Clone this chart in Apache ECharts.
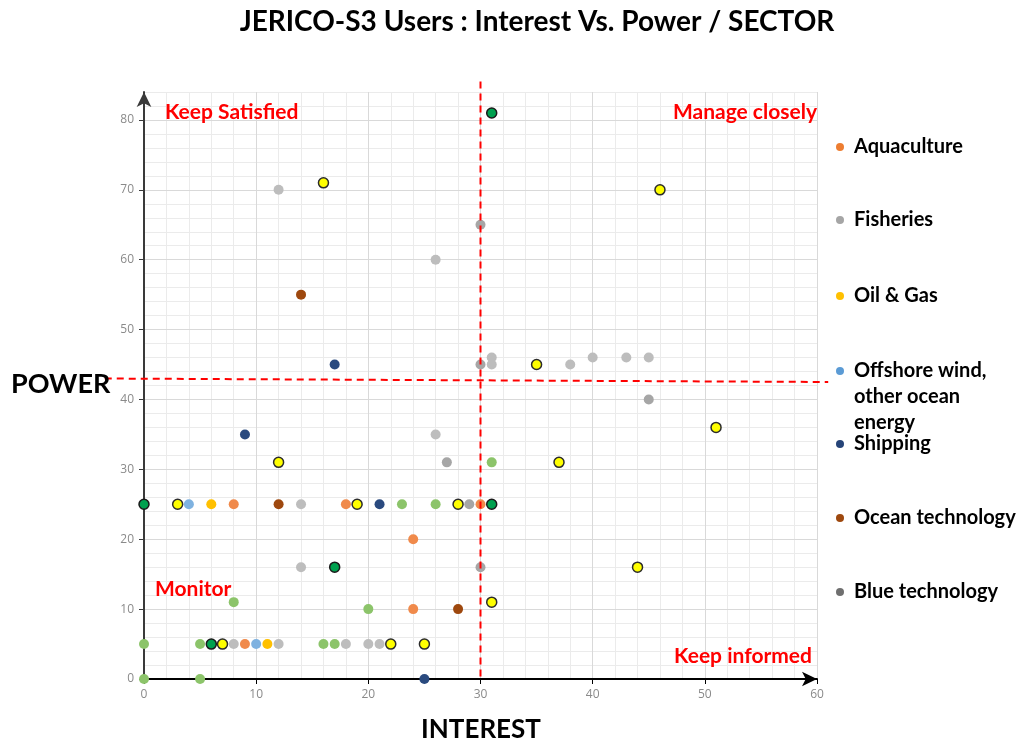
<!DOCTYPE html>
<html>
<head>
<meta charset="utf-8">
<script src="https://cdn.jsdelivr.net/npm/echarts@6/dist/echarts.min.js"></script>
<style>
  html, body { margin: 0; padding: 0; background: #ffffff; }
  #chart { width: 1022px; height: 745px; }
</style>
</head>
<body>
<div id="chart"></div>
<script>
// Axis tick labels
const interestTicks = [0, 10, 20, 30, 40, 50, 60];
const powerTicks = [0, 10, 20, 30, 40, 50, 60, 70, 80];

// [interest, power] per stakeholder, grouped by sector
const aquaculture = [[8, 25], [18, 25], [30, 25], [24, 20], [24, 10], [9, 5]];
const fisheries = [[14, 25], [14, 16], [8, 5], [12, 5], [18, 5], [20, 5], [21, 5], [12, 70], [26, 60],
  [26, 35], [31, 46], [31, 45], [38, 45], [40, 46], [43, 46], [45, 46]];
const oilGas = [[6, 25], [11, 5]];
const offshoreWind = [[4, 25], [10, 5]];
const shipping = [[17, 45], [9, 35], [21, 25], [25, 0]];
const oceanTech = [[14, 55], [12, 25], [28, 10]];
const blueTech = [[27, 31], [45, 40], [30, 65], [30, 45], [30, 16], [29, 25]];
const groupGreen = [[23, 25], [26, 25], [8, 11], [20, 10], [0, 5], [5, 5], [16, 5], [17, 5], [0, 0], [5, 0], [31, 31]];
const groupYellow = [[16, 71], [46, 70], [35, 45], [51, 36], [12, 31], [37, 31], [3, 25], [19, 25], [28, 25],
  [44, 16], [31, 11], [7, 5], [22, 5], [25, 5]];
const groupDarkGreen = [[31, 81], [0, 25], [31, 25], [17, 16], [6, 5]];

// Quadrant thresholds
const interestThreshold = 30;
const powerThreshold = [43, 42.5]; // left end, right end

const sectors = [
  { name: 'Aquaculture', data: aquaculture, color: '#f08a4b', legendColor: '#ed7d31' },
  { name: 'Fisheries', data: fisheries, color: '#bdbdbd', legendColor: '#a5a5a5' },
  { name: 'Oil & Gas', data: oilGas, color: '#ffc000', legendColor: '#ffc000' },
  { name: 'Offshore wind, other ocean energy', data: offshoreWind, color: '#7fb2e0', legendColor: '#5b9bd5' },
  { name: 'Shipping', data: shipping, color: '#2a4a7f', legendColor: '#264478' },
  { name: 'Ocean technology', data: oceanTech, color: '#9e480e', legendColor: '#9e480e' },
  { name: 'Blue technology', data: blueTech, color: '#a6a6a6', legendColor: '#6f6f6f' }
];

const FONT = 'Lato, "Open Sans", sans-serif';
const chart = echarts.init(document.getElementById('chart'), null, { renderer: 'canvas' });

const onMain = { xAxisIndex: 1, yAxisIndex: 1 };
const series = [];
series.push(Object.assign({
  name: 'Group G', type: 'scatter', data: groupGreen, symbolSize: 10,
  itemStyle: { color: '#8cc46a', opacity: 1 }
}, onMain));
sectors.forEach(s => series.push(Object.assign({
  name: s.name, type: 'scatter', data: s.data, symbolSize: 10,
  itemStyle: { color: s.color, opacity: 1 }
}, onMain)));
series.push(Object.assign({
  name: 'Group Y', type: 'scatter', data: groupYellow, symbolSize: 10,
  itemStyle: { color: '#ffff00', borderColor: '#2b2b2b', borderWidth: 1.5, opacity: 1 }
}, onMain));
series.push(Object.assign({
  name: 'Group D', type: 'scatter', data: groupDarkGreen, symbolSize: 10,
  itemStyle: { color: '#00a14f', borderColor: '#1a1a1a', borderWidth: 1.5, opacity: 1 }
}, onMain));

// One legend block per sector, stacked on the right
const legendRows = [147, 220, 296, 371, 444, 518, 592];
const legends = sectors.map((s, i) => {
  const multi = s.name.indexOf('Offshore') === 0;
  return {
    orient: 'vertical',
    left: 836,
    top: multi ? legendRows[i] - 65 : legendRows[i] - 13,
    padding: 0,
    itemWidth: 8,
    itemHeight: 8,
    icon: 'circle',
    selectedMode: false,
    data: [{ name: s.name, itemStyle: { color: s.legendColor } }],
    // the two leading blank lines keep the dot level with the first line
    formatter: multi ? () => '\n\nOffshore wind,\nother ocean\nenergy' : undefined,
    textStyle: {
      fontFamily: FONT, fontWeight: 'bold', fontSize: 20, color: '#000',
      lineHeight: 26, padding: [0, 0, 0, 5]
    }
  };
});

// Fine grid every 2 units on axis 0, labelled axis with major grid on axis 1
const minorGrid = { show: true, lineStyle: { color: '#ebebeb', width: 1 } };
const majorGrid = { show: true, lineStyle: { color: '#d9d9d9', width: 1 } };
const tickLabel = { color: '#8a8a8a', fontSize: 12, fontFamily: '"Open Sans", sans-serif', margin: 10 };

const option = {
  backgroundColor: '#ffffff',
  animation: false,
  grid: { left: 144, right: 205, top: 92, bottom: 66, containLabel: false },
  legend: legends,
  xAxis: [
    { type: 'value', min: 0, max: 60, interval: 2, position: 'bottom', z: 0,
      axisLine: { show: false }, axisTick: { show: false }, axisLabel: { show: false },
      splitLine: minorGrid },
    { type: 'value', min: 0, max: 60, interval: 10, position: 'bottom', z: 1,
      axisLine: { show: true, onZero: false, symbol: ['none', 'arrow'], symbolSize: [11, 15],
        lineStyle: { color: '#000', width: 2 } },
      axisTick: { show: true, customValues: interestTicks, length: 5, inside: false,
        lineStyle: { color: '#000', width: 1 } },
      axisLabel: Object.assign({ customValues: interestTicks }, tickLabel),
      splitLine: majorGrid }
  ],
  yAxis: [
    { type: 'value', min: 0, max: 84, interval: 2, position: 'left', z: 0,
      axisLine: { show: false }, axisTick: { show: false }, axisLabel: { show: false },
      splitLine: minorGrid },
    { type: 'value', min: 0, max: 84, interval: 10, position: 'left', z: 1,
      axisLine: { show: true, onZero: false, symbol: ['none', 'arrow'], symbolSize: [11, 15],
        lineStyle: { color: '#3a3a3a', width: 2 } },
      axisTick: { show: true, customValues: powerTicks, length: 5, inside: false,
        lineStyle: { color: '#3a3a3a', width: 1 } },
      axisLabel: Object.assign({ customValues: powerTicks }, tickLabel),
      splitLine: majorGrid }
  ],
  series: series
};
chart.setOption(option);

// Titles, axis names, quadrant captions and threshold lines
const toPx = (v) => chart.convertToPixel({ xAxisIndex: 1, yAxisIndex: 1 }, v);
const vTop = toPx([interestThreshold, 85.5]);
const vBot = toPx([interestThreshold, 0]);
const hLeft = toPx([-3.5, powerThreshold[0]]);
const hRight = toPx([61, powerThreshold[1]]);
const dash = { stroke: '#ff0000', lineWidth: 2, lineDash: [7, 5] };
const red = (text, x, y, align) => ({
  type: 'text', z: 100, style: {
    text, x, y, align, verticalAlign: 'middle', fill: '#ff0000',
    font: 'bold 21px ' + FONT
  }
});

chart.setOption({
  graphic: [
    { type: 'text', z: 100, style: { text: 'JERICO-S3 Users : Interest Vs. Power / SECTOR', x: 537, y: 22,
      align: 'center', verticalAlign: 'middle', fill: '#000', font: 'bold 28px ' + FONT } },
    { type: 'text', z: 100, style: { text: 'POWER', x: 11, y: 384, align: 'left', verticalAlign: 'middle',
      fill: '#000', font: 'bold 27px ' + FONT } },
    { type: 'text', z: 100, style: { text: 'INTEREST', x: 481, y: 730, align: 'center', verticalAlign: 'middle',
      fill: '#000', font: 'bold 26px ' + FONT } },
    red('Keep Satisfied', 165, 112, 'left'),
    red('Manage closely', 817, 112, 'right'),
    red('Monitor', 155, 589, 'left'),
    red('Keep informed', 812, 656, 'right'),
    { type: 'line', z: 90, shape: { x1: vTop[0], y1: vTop[1], x2: vBot[0], y2: vBot[1] }, style: dash },
    { type: 'line', z: 90, shape: { x1: hLeft[0], y1: hLeft[1], x2: hRight[0], y2: hRight[1] }, style: dash }
  ]
});
</script>
</body>
</html>
